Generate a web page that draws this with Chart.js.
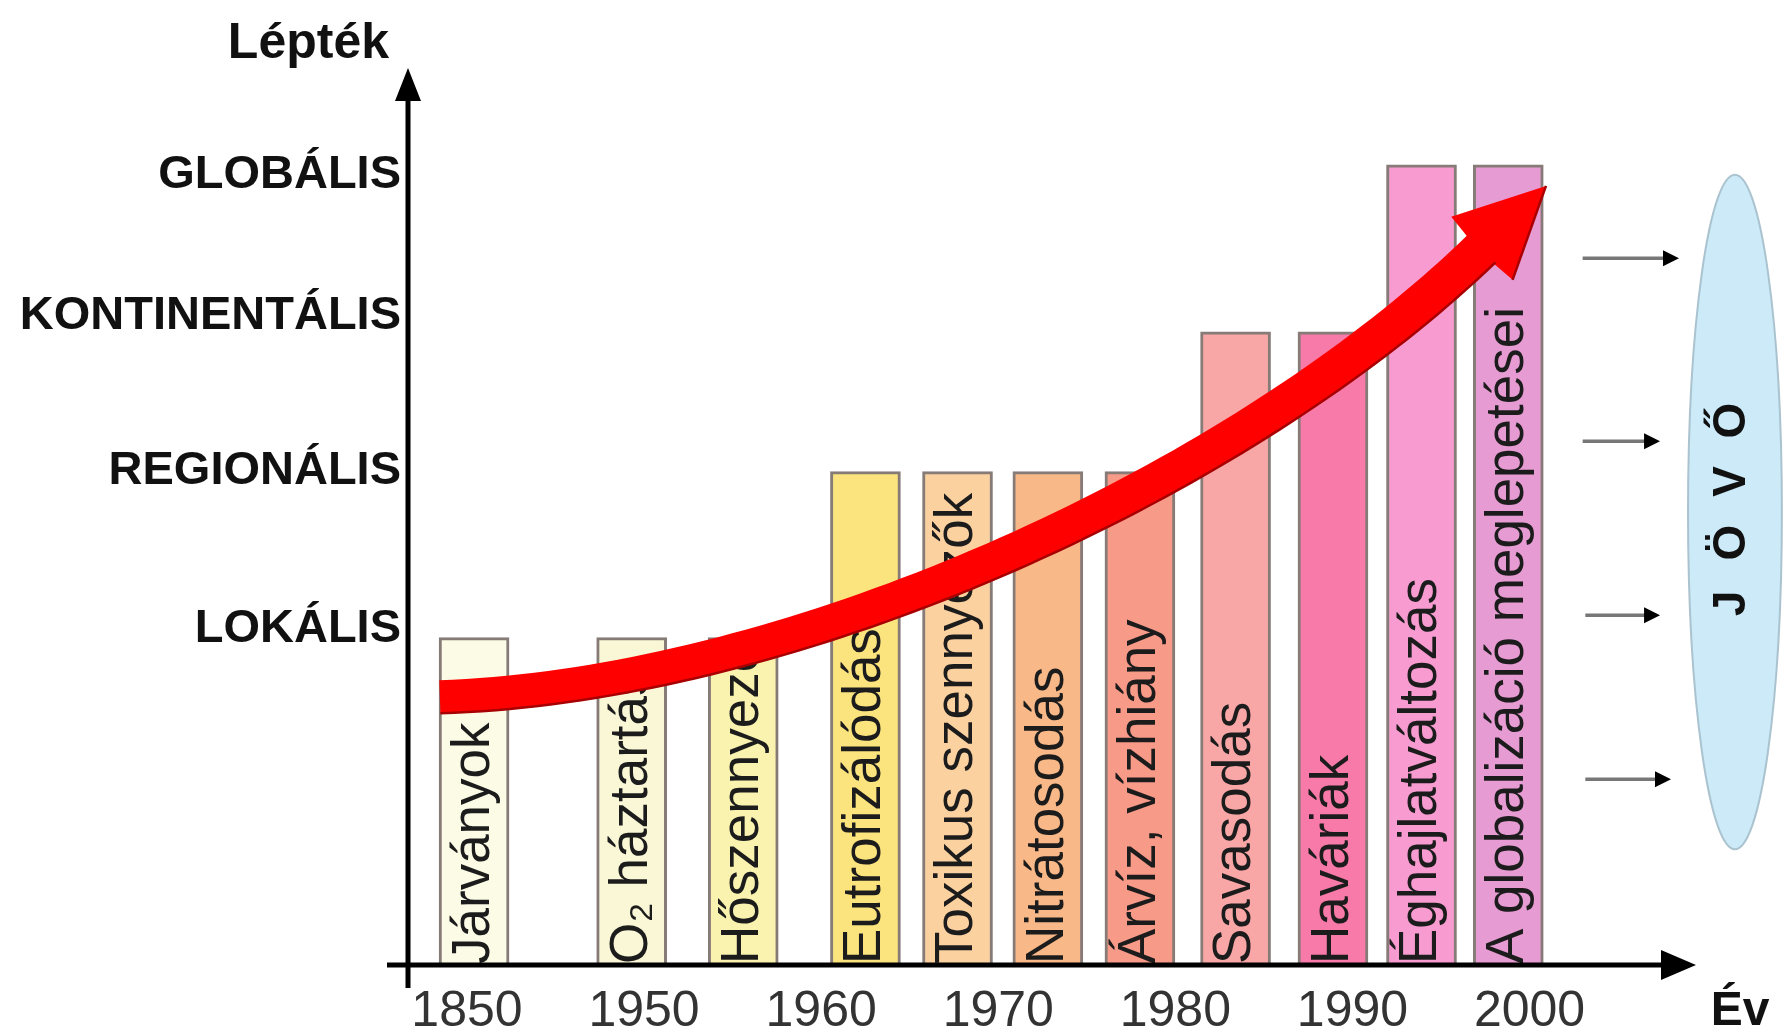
<!DOCTYPE html>
<html lang="hu">
<head>
<meta charset="utf-8">
<title>Környezeti problémák léptéke</title>
<script src="https://cdn.jsdelivr.net/npm/chart.js@4.4.1/dist/chart.umd.min.js"></script>
<style>
  html, body { margin: 0; padding: 0; background: #fff; }
  #wrap { width: 1785px; height: 1034px; }
</style>
</head>
<body>
<div id="wrap"><canvas id="chart" width="1785" height="1034"></canvas></div>
<script>
// Environmental problems, the (approximate) year each emerged and the spatial scale it reached
const problems = ['Járványok', 'O₂ háztartás', 'Hőszennyezés', 'Eutrofizálódás', 'Toxikus szennyezők',
  'Nitrátosodás', 'Árvíz, vízhiány', 'Savasodás', 'Haváriák', 'Éghajlatváltozás', 'A globalizáció meglepetései'];
const appearedYear = [1854, 1943, 1955.6, 1962.5, 1967.7, 1972.8, 1978, 1983.4, 1988.9, 1993.9, 1998.8];
const scaleLevel = [36.5, 36.5, 36.5, 55, 55, 55, 55, 70.6, 70.6, 89.2, 89.2];
const barColors = ['#fbfbe6', '#f9f7d6', '#faf3b0', '#fbe47e', '#fbd1a0', '#f8b888', '#f89a88',
  '#f9a6a6', '#f87aa8', '#f79bd0', '#e69bd2'];

// Axis ticks
const yearTicks = [1850, 1950, 1960, 1970, 1980, 1990, 2000];
const levelNames = ['LOKÁLIS', 'REGIONÁLIS', 'KONTINENTÁLIS', 'GLOBÁLIS'];
const levelTicks = [37.4, 55.1, 72.3, 88.1];

// Growth arrow (cubic curve in axis units) and its head
const trendX = [-0.153, 1.880, 4.393, 5.731];
const trendY = [29.9, 31.2, 54.3, 79.9];
const trendTip = [6.093, 86.85];

// "Jövő" (future) ellipse and the arrows pointing to it
const futureCenter = [7.16, 50.5];
const futureRadius = [0.265, 37.6];
const futureArrowY = [78.8, 58.4, 39.0, 20.7];
const futureArrowX0 = [6.30, 6.30, 6.315, 6.315];
const futureArrowX1 = [6.844, 6.737, 6.737, 6.799];
const futureText = ['J', 'Ö', 'V', 'Ő'];

// Broken time axis: 1850 → 1950 takes one step, then one step per decade
function yearToAxis(year) {
  return year < 1950 ? (year - 1850) / 100 : 1 + (year - 1950) / 10;
}

const FONT = '"Liberation Sans", Arial, Helvetica, sans-serif';

const overlay = {
  id: 'overlay',
  afterDatasetsDraw(chart) {
    const { ctx, chartArea: ca, scales: { x, y } } = chart;
    const meta = chart.getDatasetMeta(0);

    // Vertical names written inside each bar
    const fs = 53;
    ctx.save();
    ctx.font = fs + 'px ' + FONT;
    ctx.fillStyle = '#1c1c1c';
    meta.data.forEach((bar, i) => {
      const p = bar.getProps(['x', 'y', 'base', 'width'], true);
      const half = p.width / 2;
      ctx.save();
      ctx.beginPath();
      ctx.rect(p.x - half + 2, p.y + 2, p.width - 4, p.base - p.y - 2);
      ctx.clip();
      ctx.translate(p.x + fs * 0.28, p.base - 1);
      ctx.rotate(-Math.PI / 2);
      ctx.textAlign = 'left';
      ctx.textBaseline = 'alphabetic';
      ctx.fillText(problems[i], 0, 0);
      ctx.restore();
    });
    ctx.restore();

    // Axes with arrowheads
    const ax = ca.left, ay = ca.bottom;
    ctx.save();
    ctx.strokeStyle = '#000';
    ctx.fillStyle = '#000';
    ctx.lineWidth = 5;
    ctx.beginPath();
    ctx.moveTo(ax, ay + 23);
    ctx.lineTo(ax, ca.top + 30);
    ctx.moveTo(ax - 21, ay);
    ctx.lineTo(ca.right - 32, ay);
    ctx.stroke();
    ctx.beginPath();
    ctx.moveTo(ax, ca.top);
    ctx.lineTo(ax - 13, ca.top + 33);
    ctx.lineTo(ax + 13, ca.top + 33);
    ctx.closePath();
    ctx.fill();
    ctx.beginPath();
    ctx.moveTo(ca.right, ay);
    ctx.lineTo(ca.right - 35, ay - 15);
    ctx.lineTo(ca.right - 35, ay + 15);
    ctx.closePath();
    ctx.fill();

    // Axis titles
    ctx.font = 'bold 50px ' + FONT;
    ctx.textAlign = 'right';
    ctx.textBaseline = 'alphabetic';
    ctx.fillStyle = '#111';
    ctx.fillText('Lépték', ax - 19, 58);
    ctx.font = 'bold 48px ' + FONT;
    ctx.textAlign = 'center';
    ctx.fillText('Év', ca.right + 44, 1025);
    ctx.restore();

    // Growth arrow
    const P = trendX.map((v, i) => [x.getPixelForValue(v), y.getPixelForValue(trendY[i])]);
    const tip = [x.getPixelForValue(trendTip[0]), y.getPixelForValue(trendTip[1])];
    const N = 80, upper = [], lower = [];
    for (let k = 0; k <= N; k++) {
      const t = k / N, u = 1 - t;
      const bx = u*u*u*P[0][0] + 3*u*u*t*P[1][0] + 3*u*t*t*P[2][0] + t*t*t*P[3][0];
      const by = u*u*u*P[0][1] + 3*u*u*t*P[1][1] + 3*u*t*t*P[2][1] + t*t*t*P[3][1];
      const dx = 3*u*u*(P[1][0]-P[0][0]) + 6*u*t*(P[2][0]-P[1][0]) + 3*t*t*(P[3][0]-P[2][0]);
      const dy = 3*u*u*(P[1][1]-P[0][1]) + 6*u*t*(P[2][1]-P[1][1]) + 3*t*t*(P[3][1]-P[2][1]);
      const len = Math.hypot(dx, dy) || 1;
      const nx = -dy / len, ny = dx / len;
      const w = (33 + 6 * t) / 2;
      upper.push([bx - nx * w, by - ny * w]);
      lower.push([bx + nx * w, by + ny * w]);
    }
    const end = P[3];
    const hdx = tip[0] - end[0], hdy = tip[1] - end[1];
    const hl = Math.hypot(hdx, hdy);
    const hnx = -hdy / hl, hny = hdx / hl;
    const hw = 44;
    const c1 = [end[0] - hnx * hw, end[1] - hny * hw];
    const c2 = [end[0] + hnx * hw, end[1] + hny * hw];

    ctx.save();
    ctx.fillStyle = '#ff0000';
    ctx.beginPath();
    upper.forEach((pt, k) => k ? ctx.lineTo(pt[0], pt[1]) : ctx.moveTo(pt[0], pt[1]));
    for (let k = lower.length - 1; k >= 0; k--) ctx.lineTo(lower[k][0], lower[k][1]);
    ctx.closePath();
    ctx.fill();
    ctx.beginPath();
    ctx.moveTo(tip[0], tip[1]);
    ctx.lineTo(c1[0], c1[1]);
    ctx.lineTo(end[0] - (hdx / hl) * 4, end[1] - (hdy / hl) * 4);
    ctx.lineTo(c2[0], c2[1]);
    ctx.closePath();
    ctx.fill();
    // darker shaded edge on the lower side
    ctx.strokeStyle = '#a80000';
    ctx.lineWidth = 2.5;
    ctx.beginPath();
    lower.forEach((pt, k) => k ? ctx.lineTo(pt[0], pt[1]) : ctx.moveTo(pt[0], pt[1]));
    ctx.stroke();
    ctx.beginPath();
    ctx.moveTo(tip[0], tip[1]);
    ctx.lineTo(c2[0], c2[1]);
    ctx.stroke();
    ctx.restore();

    // Future ellipse
    const ex = x.getPixelForValue(futureCenter[0]);
    const ey = y.getPixelForValue(futureCenter[1]);
    const rx = Math.abs(x.getPixelForValue(futureCenter[0] + futureRadius[0]) - ex);
    const ry = Math.abs(y.getPixelForValue(futureCenter[1] + futureRadius[1]) - ey);
    ctx.save();
    ctx.beginPath();
    ctx.ellipse(ex, ey, rx, ry, 0, 0, Math.PI * 2);
    ctx.fillStyle = '#cdeaf9';
    ctx.fill();
    ctx.strokeStyle = '#aac3cf';
    ctx.lineWidth = 2;
    ctx.stroke();

    ctx.font = 'bold 46px ' + FONT;
    ctx.fillStyle = '#111';
    ctx.textAlign = 'center';
    ctx.textBaseline = 'alphabetic';
    ctx.translate(ex - 6, ey);
    ctx.rotate(-Math.PI / 2);
    const step = 61;
    futureText.forEach((ch, i) => {
      ctx.fillText(ch, (i - (futureText.length - 1) / 2) * step, 46 * 0.716 / 2);
    });
    ctx.restore();

    // Arrows pointing to the future
    ctx.save();
    futureArrowY.forEach((v, i) => {
      const py = y.getPixelForValue(v);
      const x0 = x.getPixelForValue(futureArrowX0[i]);
      const x1 = x.getPixelForValue(futureArrowX1[i]);
      ctx.strokeStyle = '#777';
      ctx.lineWidth = 3.5;
      ctx.beginPath();
      ctx.moveTo(x0, py);
      ctx.lineTo(x1 - 12, py);
      ctx.stroke();
      ctx.fillStyle = '#000';
      ctx.beginPath();
      ctx.moveTo(x1, py);
      ctx.lineTo(x1 - 16, py - 8);
      ctx.lineTo(x1 - 16, py + 8);
      ctx.closePath();
      ctx.fill();
    });
    ctx.restore();
  }
};

new Chart(document.getElementById('chart'), {
  type: 'bar',
  data: {
    datasets: [{
      data: appearedYear.map((yr, i) => ({ x: yearToAxis(yr), y: scaleLevel[i] })),
      backgroundColor: barColors,
      borderColor: '#877b78',
      borderWidth: 3,
      borderSkipped: 'bottom',
      barThickness: 70
    }]
  },
  options: {
    responsive: false,
    animation: false,
    events: [],
    layout: { padding: { top: 68, right: 89, left: 0, bottom: 0 } },
    plugins: { legend: { display: false }, tooltip: { enabled: false } },
    scales: {
      x: {
        type: 'linear',
        offset: false,
        min: -0.333,
        max: 6.94,
        grid: { display: false, drawTicks: false, offset: false },
        border: { display: false },
        afterBuildTicks: s => { s.ticks = yearTicks.map(yr => ({ value: yearToAxis(yr) })); },
        afterFit: s => { s.height = 69; },
        ticks: {
          autoSkip: false,
          maxRotation: 0,
          padding: 17,
          color: '#333',
          font: { family: FONT, size: 50 },
          callback: (v, i) => String(yearTicks[i])
        }
      },
      y: {
        min: 0,
        max: 100,
        grid: { display: false, drawTicks: false },
        border: { display: false },
        afterBuildTicks: s => { s.ticks = levelTicks.map(v => ({ value: v })); },
        afterFit: s => { s.width = 408; },
        ticks: {
          autoSkip: false,
          padding: 7,
          color: '#111',
          font: { family: FONT, size: 47, weight: 'bold' },
          callback: (v, i) => levelNames[i]
        }
      }
    }
  },
  plugins: [overlay]
});
</script>
</body>
</html>
